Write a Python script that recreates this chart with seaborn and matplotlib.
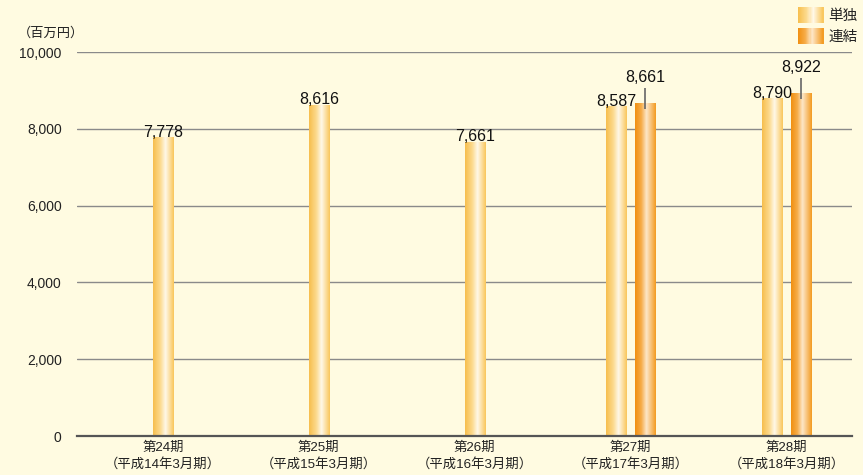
import numpy as np
import pandas as pd
import matplotlib
matplotlib.use("Agg")
import matplotlib.pyplot as plt
import seaborn as sns
from matplotlib.colors import LinearSegmentedColormap
from matplotlib.legend_handler import HandlerBase
from matplotlib.patches import Rectangle

# ---- data -------------------------------------------------------------
periods = ["第24期\n（平成14年3月期）", "第25期\n（平成15年3月期）", "第26期\n（平成16年3月期）",
           "第27期\n（平成17年3月期）", "第28期\n（平成18年3月期）"]
series_names = ["単独", "連結"]
single_values = [7778, 8616, 7661, 8587, 8790]
consolidated_values = [np.nan, np.nan, np.nan, 8661, 8922]
y_ticks = [0, 2000, 4000, 6000, 8000, 10000]
unit_label = "（百万円）"

# ---- style ------------------------------------------------------------
BG = "#FFFBE1"
sns.set_theme(style="white")
plt.rcParams["font.family"] = ["Liberation Sans", "Noto Sans CJK JP", "DejaVu Sans"]

gradients = {
    "単独": LinearSegmentedColormap.from_list(
        "single", [(0.0, "#F7BE4C"), (0.35, "#FCDA8E"), (0.6, "#FFF8E8"), (1.0, "#F9C65A")]),
    "連結": LinearSegmentedColormap.from_list(
        "consol", [(0.0, "#F18F10"), (0.3, "#F6AC48"), (0.55, "#FDE7C8"), (1.0, "#F39A20")]),
}

rows = []
for i, p in enumerate(periods):
    rows.append({"period": p, "kind": "単独", "value": single_values[i]})
    if not np.isnan(consolidated_values[i]):
        rows.append({"period": p, "kind": "連結", "value": consolidated_values[i]})
df = pd.DataFrame(rows)

fig = plt.figure(figsize=(8.63, 4.75), dpi=100, facecolor=BG)
ax = fig.add_axes([0.0892, 0.0821, 0.8978, 0.8084])
ax.set_facecolor(BG)

sns.barplot(data=df, x="period", y="value", hue="kind", order=periods,
            hue_order=series_names, dodge=True, width=0.372, gap=0.31,
            palette=["#F9C558", "#F39A20"], errorbar=None, legend=False, ax=ax,
            zorder=3)

# center the lone bar in periods that have no consolidated figure
single_bars = list(ax.containers[0])
for i, bar in enumerate(single_bars):
    if np.isnan(consolidated_values[i]):
        bar.set_x(i - bar.get_width() / 2)

# paint each bar with a horizontal gradient
grad = np.linspace(0, 1, 256).reshape(1, -1)
for container, name in zip(ax.containers, series_names):
    for bar in container:
        h = bar.get_height()
        if not np.isfinite(h) or h <= 0:
            continue
        x0 = bar.get_x()
        w = bar.get_width()
        bar.set_facecolor("none")
        bar.set_edgecolor("none")
        im = ax.imshow(grad, cmap=gradients[name], extent=[x0, x0 + w, 0, h],
                       aspect="auto", zorder=3, interpolation="bilinear")
        im.set_clip_path(bar)

# value labels
label_kw = dict(ha="center", fontsize=11.5, color="#111111", zorder=5)
for i, bar in enumerate(ax.containers[0]):
    v = single_values[i]
    cx = bar.get_x() + bar.get_width() / 2
    ax.text(cx, v - 60, f"{v:,}", va="bottom", **label_kw)
for i, bar in zip([i for i, v in enumerate(consolidated_values) if not np.isnan(v)],
                  ax.containers[1]):
    v = consolidated_values[i]
    cx = bar.get_x() + bar.get_width() / 2
    ax.text(cx, v + 480, f"{v:,.0f}", va="bottom", **label_kw)
    ax.plot([cx, cx], [v - 150, v + 400], color="#666666", lw=1.2, zorder=6,
            solid_capstyle="butt")

# axes cosmetics
ax.set_xlim(-0.551, 4.417)
ax.set_ylim(0, 10000)
ax.set_yticks(y_ticks)
ax.set_yticklabels([f"{t:,}" for t in y_ticks], fontsize=10, color="#222222")
ax.tick_params(axis="y", length=0, pad=11)
ax.tick_params(axis="x", length=0, pad=4, labelsize=9.6, labelcolor="#222222")
for lbl in ax.get_xticklabels():
    lbl.set_linespacing(1.35)
ax.set_xlabel("")
ax.set_ylabel("")
for t in y_ticks[1:]:
    ax.axhline(t, color="#8A8A8A", lw=1.0, zorder=1)
for s in ["top", "right", "left"]:
    ax.spines[s].set_visible(False)
ax.spines["bottom"].set_color("#555555")
ax.spines["bottom"].set_linewidth(1.6)
ax.spines["bottom"].set_zorder(4)

fig.text(0.021, 0.93, unit_label, fontsize=9.5, color="#222222", va="center")


# legend with gradient swatches
class GradientHandler(HandlerBase):
    def __init__(self, cmap):
        super().__init__()
        self.cmap = cmap

    def create_artists(self, legend, orig_handle, xdescent, ydescent, width,
                       height, fontsize, trans):
        n = 24
        arts = []
        for k in range(n):
            r = Rectangle((-xdescent + width * k / n, -ydescent - 2), width / n + 0.3,
                          height + 4, facecolor=self.cmap((k + 0.5) / n),
                          edgecolor="none", transform=trans)
            arts.append(r)
        return arts


handles = [Rectangle((0, 0), 1, 1) for _ in series_names]
leg = fig.legend(handles, series_names, loc="upper right",
                 bbox_to_anchor=(1.009, 1.008), frameon=False, fontsize=10.5,
                 handlelength=1.75, handletextpad=0.35, labelspacing=0.45,
                 handler_map={h: GradientHandler(gradients[n])
                              for h, n in zip(handles, series_names)})
for t in leg.get_texts():
    t.set_color("#222222")

fig.savefig("out.png", dpi=100, facecolor=BG)
